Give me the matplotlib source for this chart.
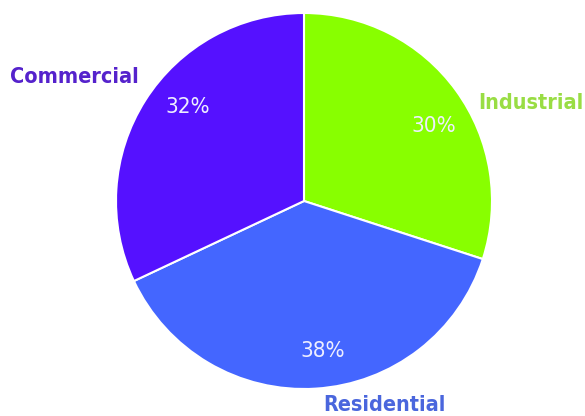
import matplotlib
matplotlib.use("Agg")
import matplotlib.pyplot as plt

# data
categories = ["Industrial", "Residential", "Commercial"]
shares = [30, 38, 32]
colors = ["#88ff00", "#4466ff", "#5511ff"]
label_colors = ["#99dd44", "#4a66dd", "#5522cc"]

# label spots (axes data coords, pie radius = 1)
name_pos = [(1.205, 0.52), (0.43, -1.085), (-1.22, 0.66)]
pct_pos = [(0.69, 0.40), (0.10, -0.80), (-0.62, 0.50)]

plt.rcParams['font.family'] = ['DejaVu Sans']

fig = plt.figure(figsize=(5.85, 4.16), dpi=100)
cx, cy, r = 304, 201, 188
ax = fig.add_axes([(cx - r) / 585, (416 - cy - r) / 416, 2 * r / 585, 2 * r / 416])

ax.pie(shares, colors=colors, startangle=90, counterclock=False,
       wedgeprops=dict(edgecolor="white", linewidth=1.5))
ax.set_xlim(-1, 1)
ax.set_ylim(-1, 1)
ax.set_aspect("equal")
ax.axis("off")

for name, val, c, np_, pp in zip(categories, shares, label_colors, name_pos, pct_pos):
    ax.text(np_[0], np_[1], name, color=c, fontsize=15.5, fontweight="bold",
            fontstretch="condensed", ha="center", va="center", clip_on=False)
    ax.text(pp[0], pp[1], "%d%%" % val, color="#eeeeff", fontsize=16,
            fontstretch="condensed", ha="center", va="center")

fig.savefig("out.png", dpi=100)
